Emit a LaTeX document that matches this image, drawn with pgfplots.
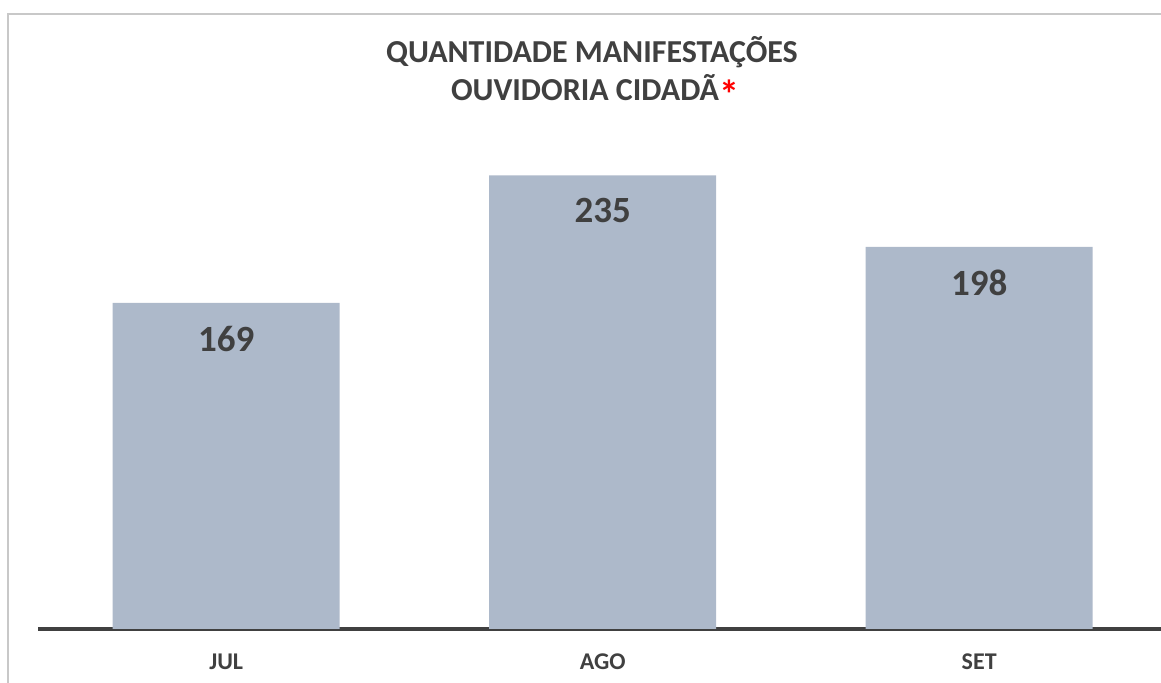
\documentclass[border=0pt]{standalone}
\usepackage{fontspec}
\setmainfont{Carlito}
\usepackage{pgfplots}
\pgfplotsset{compat=1.18}
\definecolor{barc}{HTML}{ADB9CA}
\definecolor{txt}{HTML}{404040}
\definecolor{frame}{HTML}{C8C8C8}
\begin{document}
\begin{tikzpicture}
\useasboundingbox (0,0) rectangle (1161bp,683bp);
\draw[frame, line width=1.5bp] (8bp,0) -- (8bp,669bp) -- (1161bp,669bp);
\node[anchor=base, font=\fontsize{32bp}{38bp}\selectfont\bfseries, text=txt, inner sep=0] at (592bp,620bp) {QUANTIDADE MANIFESTAÇÕES};
\node[anchor=base, font=\fontsize{32bp}{38bp}\selectfont\bfseries, text=txt, inner sep=0] at (595bp,582bp) {OUVIDORIA CIDADÃ\raisebox{-8bp}{\textcolor{red}{\fontsize{40bp}{40bp}\selectfont *}}};
\begin{axis}[
  at={(38bp,54bp)}, anchor=south west,
  scale only axis, width=1123bp, height=579bp,
  xmin=-0.5, xmax=2.483, ymin=0, ymax=300,
  axis x line=bottom, axis y line=none,
  axis line style={txt, line width=4bp, -},
  xtick=data, xticklabels={JUL,AGO,SET},
  major tick length=0pt,
  xticklabel style={font=\fontsize{24bp}{28bp}\selectfont\bfseries, text=txt, yshift=-21bp},
  ybar, bar width=227bp,
  nodes near coords,
  /pgf/number format/assume math mode=true,
  every node near coord/.append style={font=\fontsize{37bp}{44bp}\selectfont\bfseries, text=txt, anchor=north, inner sep=0pt, yshift=-23bp},
  clip=false,
]
\addplot[fill=barc, draw=none] coordinates {(0,169) (1,235) (2,198)};
\end{axis}
\end{tikzpicture}
\end{document}
